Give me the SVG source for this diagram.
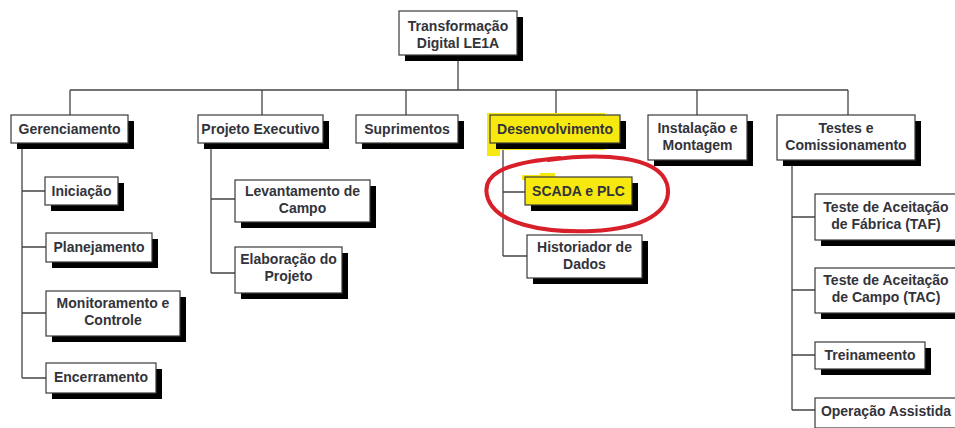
<svg xmlns="http://www.w3.org/2000/svg" width="955" height="428" viewBox="0 0 955 428">
<style>
.box{fill:#fff;stroke:#3a3a3a;stroke-width:1.2}
.hl{fill:#f7e80f;stroke:#3a3a3a;stroke-width:1.2}
.sh{fill:#000}
.t{font-family:"Liberation Sans",Arial,sans-serif;font-weight:bold;font-size:14px;fill:#33333b;text-anchor:middle}
.c{fill:none;stroke:#444;stroke-width:1.3}
</style>
<rect width="955" height="428" fill="#fff"/>
<g id="connectors">
<path class="c" d="M458,55V90M70,90H848M70,90V115M262,90V115M406,90V115M556,90V115M697,90V115M848,90V115"/>
<path class="c" d="M22,143V378M22,191H45M22,247H46M22,313H46M22,378H46"/>
<path class="c" d="M211,143V273M211,199H235M211,273H235"/>
<path class="c" d="M503,143V256M503,192H525M503,256H527"/>
<path class="c" d="M792,160V410M792,217H815M792,290H815M792,355H815M792,410H815"/>
</g>
<g id="root"><rect class="sh" x="405" y="17" width="118" height="44"/><rect class="box" x="399" y="11" width="118" height="44"/><text class="t" x="458" y="31">Transformação</text><text class="t" x="458" y="48">Digital LE1A</text></g>
<g id="gerenciamento"><rect class="sh" x="17" y="121" width="117" height="28"/><rect class="box" x="11" y="115" width="117" height="28"/><text class="t" x="69.5" y="134">Gerenciamento</text></g>
<g id="projeto"><rect class="sh" x="204" y="121" width="125" height="28"/><rect class="box" x="198" y="115" width="125" height="28"/><text class="t" x="260.5" y="134">Projeto Executivo</text></g>
<g id="suprimentos"><rect class="sh" x="362" y="121" width="102" height="28"/><rect class="box" x="356" y="115" width="102" height="28"/><text class="t" x="407" y="134">Suprimentos</text></g>
<g id="desenvolvimento"><path d="M487,113H605V150H500V156H487Z" fill="#f7e80f"/><rect class="sh" x="496" y="121" width="130" height="28"/><rect class="hl" x="490" y="115" width="130" height="28"/><text class="t" x="555" y="134">Desenvolvimento</text></g>
<g id="instalacao"><rect class="sh" x="654" y="121" width="99" height="45"/><rect class="box" x="648" y="115" width="99" height="45"/><text class="t" x="697.5" y="133">Instalação e</text><text class="t" x="697.5" y="150">Montagem</text></g>
<g id="testes"><rect class="sh" x="783" y="121" width="138" height="45"/><rect class="box" x="777" y="115" width="138" height="45"/><text class="t" x="846" y="133">Testes e</text><text class="t" x="846" y="150">Comissionamento</text></g>
<g id="iniciacao"><rect class="sh" x="51" y="183" width="73" height="28"/><rect class="box" x="45" y="177" width="73" height="28"/><text class="t" x="81.5" y="196">Iniciação</text></g>
<g id="planejamento"><rect class="sh" x="52" y="239" width="106" height="29"/><rect class="box" x="46" y="233" width="106" height="29"/><text class="t" x="99" y="252">Planejamento</text></g>
<g id="monitoramento"><rect class="sh" x="52" y="297" width="134" height="45"/><rect class="box" x="46" y="291" width="134" height="45"/><text class="t" x="113" y="308">Monitoramento e</text><text class="t" x="113" y="325">Controle</text></g>
<g id="encerramento"><rect class="sh" x="52" y="369" width="110" height="30"/><rect class="box" x="46" y="363" width="110" height="30"/><text class="t" x="101" y="382">Encerramento</text></g>
<g id="levantamento"><rect class="sh" x="241" y="186" width="135" height="42"/><rect class="box" x="235" y="180" width="135" height="42"/><text class="t" x="302.5" y="196">Levantamento de</text><text class="t" x="302.5" y="213">Campo</text></g>
<g id="elaboracao"><rect class="sh" x="241" y="253" width="107" height="46"/><rect class="box" x="235" y="247" width="107" height="46"/><text class="t" x="288.5" y="264">Elaboração do</text><text class="t" x="288.5" y="281">Projeto</text></g>
<g id="scada"><path d="M522,175H540V173H555V180H522Z" fill="#f7e80f"/><rect class="sh" x="531" y="183" width="107" height="28"/><rect class="hl" x="525" y="177" width="107" height="28"/><text class="t" x="578.5" y="196">SCADA e PLC</text></g>
<g id="historiador"><rect class="sh" x="533" y="241" width="115" height="43"/><rect class="box" x="527" y="235" width="115" height="43"/><text class="t" x="584.5" y="252">Historiador de</text><text class="t" x="584.5" y="269">Dados</text></g>
<g id="taf"><rect class="sh" x="821" y="200" width="142" height="46"/><rect class="box" x="815" y="194" width="142" height="46"/><text class="t" x="886" y="212">Teste de Aceitação</text><text class="t" x="886" y="229">de Fábrica (TAF)</text></g>
<g id="tac"><rect class="sh" x="821" y="274" width="142" height="45"/><rect class="box" x="815" y="268" width="142" height="45"/><text class="t" x="886" y="285">Teste de Aceitação</text><text class="t" x="886" y="302">de Campo (TAC)</text></g>
<g id="treinamento"><rect class="sh" x="821" y="348" width="110" height="27"/><rect class="box" x="815" y="342" width="110" height="27"/><text class="t" x="870" y="360">Treinameento</text></g>
<g id="operacao"><rect class="sh" x="821" y="404" width="142" height="30"/><rect class="box" x="815" y="398" width="142" height="30"/><text class="t" x="886" y="416">Operação Assistida</text></g>
<path d="M548,160C600,153 658,155 667,184C674,212 642,229 592,231C540,233 497,223 488,199C480,176 500,163 560,158" fill="none" stroke="#d8202a" stroke-width="4" stroke-linecap="round"/>
</svg>
